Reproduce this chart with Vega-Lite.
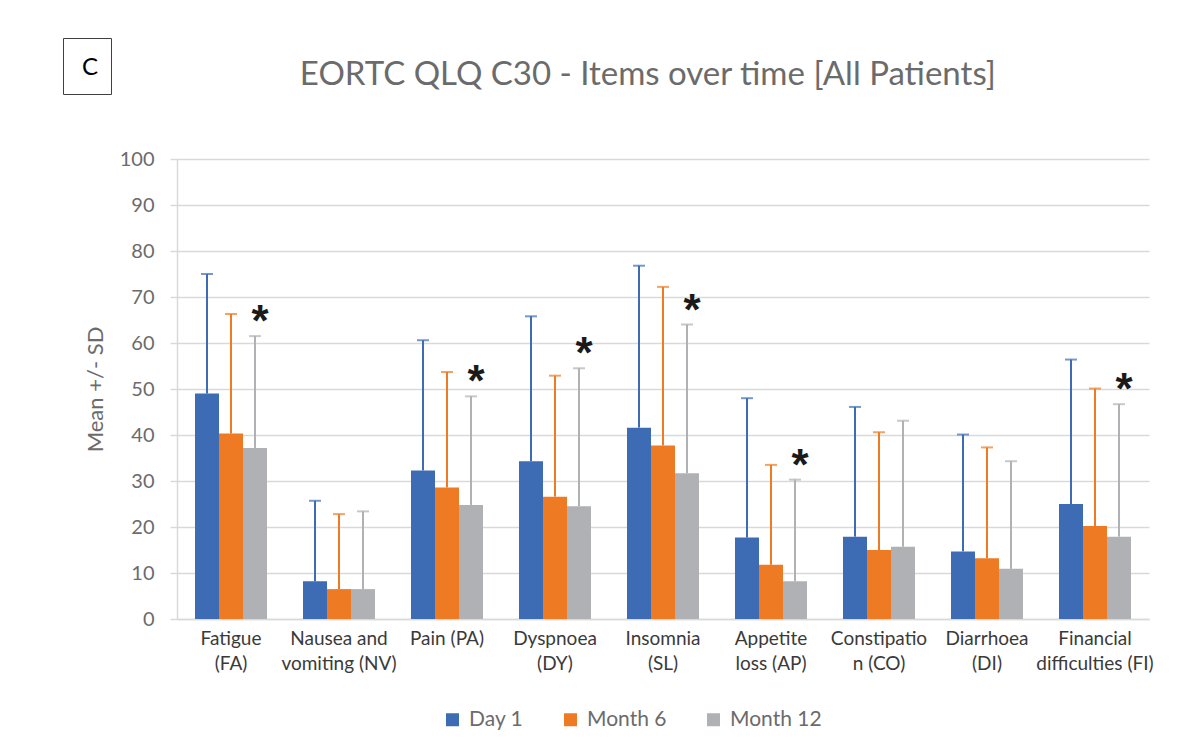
{
  "$schema": "https://vega.github.io/schema/vega-lite/v6.json",
  "padding": {"left": 62, "top": 37, "right": 0, "bottom": 0},
  "background": "white",
  "title": {
    "text": "EORTC QLQ C30 - Items over time [All Patients]",
    "font": "Lato",
    "fontSize": 33,
    "fontWeight": "normal",
    "color": "#6b6b6b",
    "anchor": "middle",
    "dx": 40,
    "dy": 58
  },
  "concat": [
    {
      "width": 48,
      "height": 56,
      "view": {"stroke": "#404040", "strokeWidth": 1},
      "data": {"values": [{"label": "C"}]},
      "mark": {"type": "text", "font": "Lato", "fontSize": 24, "color": "#000000", "baseline": "middle", "align": "center", "dx": 3, "dy": 2},
      "encoding": {"text": {"field": "label"}}
    },
    {
      "width": 1,
      "height": 1,
      "view": {"stroke": null},
      "data": {"values": []},
      "mark": "point"
    },
    {
      "width": 1,
      "height": 1,
      "view": {"stroke": null},
      "data": {"values": []},
      "mark": "point"
    },
    {
      "width": 972,
      "height": 460,
      "view": {"stroke": null},
      "data": {
        "values": [
          {"item": "Fatigue|(FA)", "time": "Day 1", "mean": 49.0, "upper": 75.0, "sig": ""},
          {"item": "Fatigue|(FA)", "time": "Month 6", "mean": 40.3, "upper": 66.3, "sig": ""},
          {"item": "Fatigue|(FA)", "time": "Month 12", "mean": 37.2, "upper": 61.5, "sig": "*"},
          {"item": "Nausea and|vomiting (NV)", "time": "Day 1", "mean": 8.2, "upper": 25.7, "sig": ""},
          {"item": "Nausea and|vomiting (NV)", "time": "Month 6", "mean": 6.5, "upper": 22.8, "sig": ""},
          {"item": "Nausea and|vomiting (NV)", "time": "Month 12", "mean": 6.5, "upper": 23.4, "sig": ""},
          {"item": "Pain (PA)", "time": "Day 1", "mean": 32.3, "upper": 60.6, "sig": ""},
          {"item": "Pain (PA)", "time": "Month 6", "mean": 28.6, "upper": 53.7, "sig": ""},
          {"item": "Pain (PA)", "time": "Month 12", "mean": 24.8, "upper": 48.4, "sig": "*"},
          {"item": "Dyspnoea|(DY)", "time": "Day 1", "mean": 34.3, "upper": 65.8, "sig": ""},
          {"item": "Dyspnoea|(DY)", "time": "Month 6", "mean": 26.6, "upper": 52.9, "sig": ""},
          {"item": "Dyspnoea|(DY)", "time": "Month 12", "mean": 24.5, "upper": 54.5, "sig": "*"},
          {"item": "Insomnia|(SL)", "time": "Day 1", "mean": 41.6, "upper": 76.8, "sig": ""},
          {"item": "Insomnia|(SL)", "time": "Month 6", "mean": 37.7, "upper": 72.2, "sig": ""},
          {"item": "Insomnia|(SL)", "time": "Month 12", "mean": 31.7, "upper": 64.0, "sig": "*"},
          {"item": "Appetite|loss (AP)", "time": "Day 1", "mean": 17.7, "upper": 48.0, "sig": ""},
          {"item": "Appetite|loss (AP)", "time": "Month 6", "mean": 11.8, "upper": 33.5, "sig": ""},
          {"item": "Appetite|loss (AP)", "time": "Month 12", "mean": 8.2, "upper": 30.3, "sig": "*"},
          {"item": "Constipatio|n (CO)", "time": "Day 1", "mean": 17.9, "upper": 46.1, "sig": ""},
          {"item": "Constipatio|n (CO)", "time": "Month 6", "mean": 15.0, "upper": 40.6, "sig": ""},
          {"item": "Constipatio|n (CO)", "time": "Month 12", "mean": 15.7, "upper": 43.1, "sig": ""},
          {"item": "Diarrhoea|(DI)", "time": "Day 1", "mean": 14.7, "upper": 40.1, "sig": ""},
          {"item": "Diarrhoea|(DI)", "time": "Month 6", "mean": 13.2, "upper": 37.3, "sig": ""},
          {"item": "Diarrhoea|(DI)", "time": "Month 12", "mean": 10.9, "upper": 34.3, "sig": ""},
          {"item": "Financial|difficulties (FI)", "time": "Day 1", "mean": 25.0, "upper": 56.4, "sig": ""},
          {"item": "Financial|difficulties (FI)", "time": "Month 6", "mean": 20.2, "upper": 50.1, "sig": ""},
          {"item": "Financial|difficulties (FI)", "time": "Month 12", "mean": 17.9, "upper": 46.7, "sig": "*"}
        ]
      },
      "encoding": {
        "x": {
          "field": "item",
          "type": "nominal",
          "sort": null,
          "scale": {"paddingInner": 0.33333, "paddingOuter": 0.16667},
          "axis": {
            "title": null,
            "labelAngle": 0,
            "labelExpr": "split(datum.label, '|')",
            "labelFont": "Lato",
            "labelFontSize": 19,
            "labelColor": "#3a3a3a",
            "labelLineHeight": 25,
            "labelPadding": 10,
            "labelLimit": 200,
            "ticks": false,
            "domainColor": "#d9d9d9",
            "domainWidth": 1.5
          }
        },
        "xOffset": {
          "field": "time",
          "type": "nominal",
          "sort": ["Day 1", "Month 6", "Month 12"],
          "scale": {"paddingInner": 0, "paddingOuter": 0}
        },
        "color": {
          "field": "time",
          "type": "nominal",
          "sort": ["Day 1", "Month 6", "Month 12"],
          "scale": {"domain": ["Day 1", "Month 6", "Month 12"], "range": ["#3d6cb5", "#ee7b24", "#b0b1b4"]},
          "legend": {
            "title": null,
            "orient": "none",
            "legendX": 379,
            "legendY": 671,
            "direction": "horizontal",
            "symbolType": "square",
            "symbolSize": 169,
            "symbolStrokeWidth": 0,
            "symbolOpacity": 1,
            "labelFont": "Lato",
            "labelFontSize": 21,
            "labelColor": "#6b6b6b",
            "labelOffset": 6,
            "columnPadding": 36,
            "padding": 0
          }
        }
      },
      "layer": [
        {
          "mark": {"type": "bar"},
          "encoding": {
            "y": {
              "field": "mean",
              "type": "quantitative",
              "scale": {"domain": [0, 100], "nice": false},
              "axis": {
                "title": "Mean +/- SD",
                "titleFont": "Lato",
                "titleFontSize": 22,
                "titleFontWeight": "normal",
                "titleColor": "#6b6b6b",
                "titlePadding": 12,
                "values": [0, 10, 20, 30, 40, 50, 60, 70, 80, 90, 100],
                "labelFont": "Lato",
                "labelFontSize": 20,
                "labelColor": "#6b6b6b",
                "labelPadding": 16,
                "tickSize": 7,
                "tickColor": "#d9d9d9",
                "tickWidth": 1.5,
                "domainColor": "#d9d9d9",
                "domainWidth": 1.5,
                "gridColor": "#d9d9d9",
                "gridWidth": 1.5
              }
            }
          }
        },
        {
          "mark": {"type": "rule", "strokeWidth": 2},
          "encoding": {
            "y": {"field": "mean", "type": "quantitative"},
            "y2": {"field": "upper"}
          }
        },
        {
          "mark": {"type": "tick", "size": 12, "thickness": 2},
          "encoding": {
            "y": {"field": "upper", "type": "quantitative"}
          }
        },
        {
          "transform": [{"filter": "datum.sig != ''"}],
          "mark": {"type": "text", "font": "Liberation Sans", "fontWeight": "bold", "fontSize": 44, "baseline": "alphabetic", "dx": 5, "dy": 0},
          "encoding": {
            "y": {"field": "upper", "type": "quantitative"},
            "text": {"field": "sig"},
            "color": {"value": "#1a1a1a"}
          }
        }
      ]
    }
  ],
  "columns": 2,
  "align": "each",
  "spacing": {"row": 54, "column": -28},
  "config": {
    "font": "Lato",
    "axis": {"gridColor": "#d9d9d9"}
  }
}
